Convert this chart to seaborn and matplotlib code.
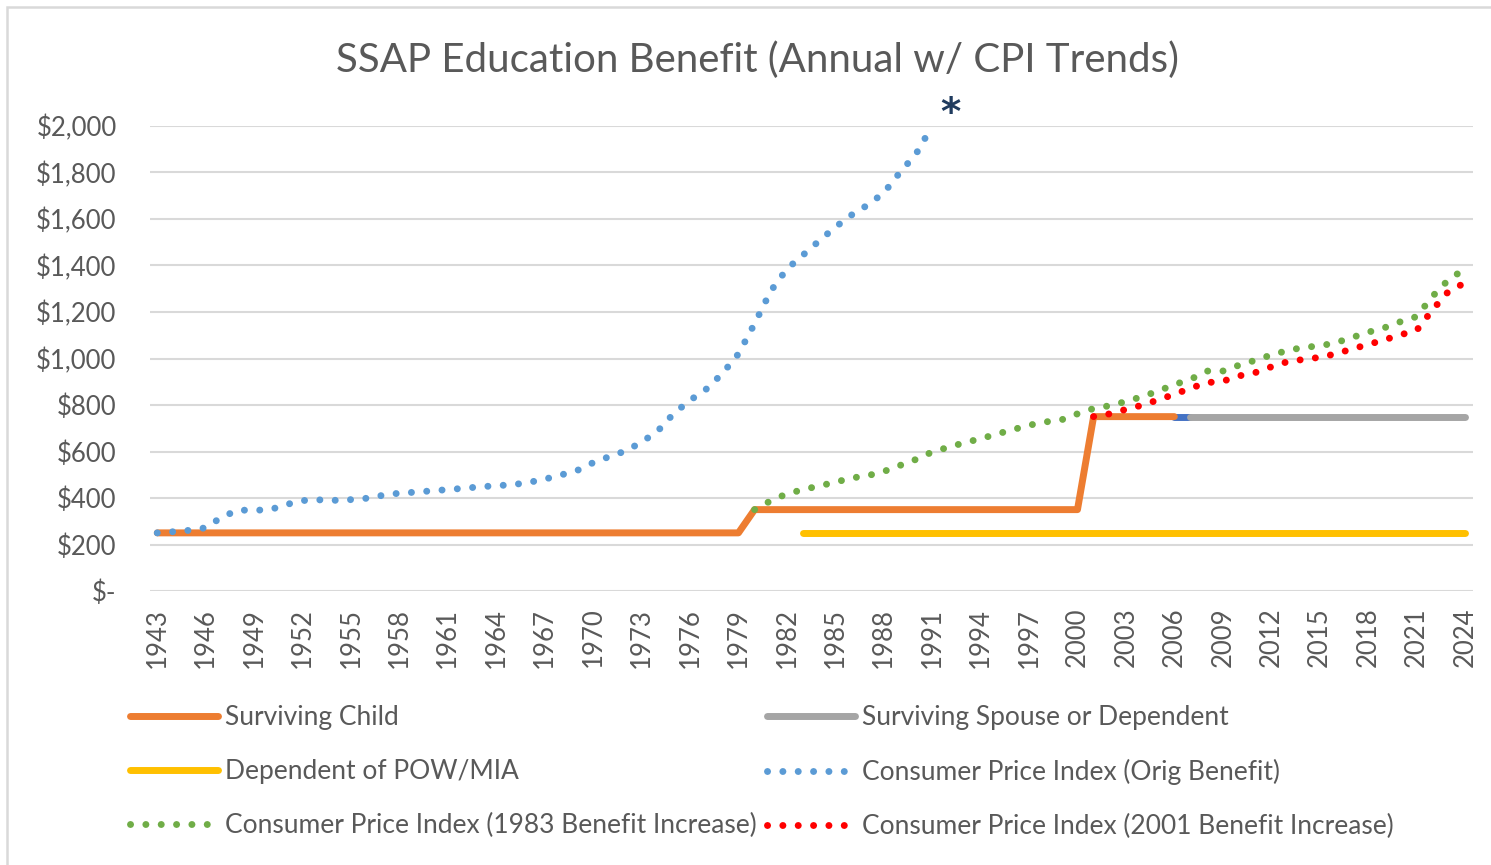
import numpy as np
import pandas as pd
import seaborn as sns
import matplotlib.pyplot as plt
from matplotlib.patches import Rectangle

# benefit levels by year
child_years = list(range(1943, 2007))
child_vals = [250] * 37 + [350] * 21 + [750] * 6

spouse_years = list(range(2006, 2025))
spouse_vals = [750] * 19

pow_years = list(range(1983, 2025))
pow_vals = [250] * 42

# CPI trend of the original 1943 benefit
cpi_orig_years = list(range(1943, 1992))
cpi_orig_vals = [250, 255, 261, 272, 318, 348, 347, 350, 372, 389,
                 392, 390, 393, 399, 412, 421, 425, 431, 436, 442,
                 448, 453, 457, 467, 481, 499, 518, 552, 578, 602,
                 640, 688, 764, 820, 868, 935, 1020, 1150, 1290, 1385,
                 1445, 1506, 1565, 1617, 1660, 1712, 1800, 1880, 2000]

# CPI trend of the 1983 increase
cpi_1983_years = list(range(1980, 2025))
cpi_1983_vals = [350, 388, 418, 436, 452, 468, 486, 496, 514, 540,
                 566, 598, 618, 638, 655, 675, 694, 713, 727, 736,
                 762, 785, 797, 815, 836, 860, 888, 910, 946, 946,
                 971, 992, 1015, 1034, 1048, 1054, 1068, 1090, 1113, 1132,
                 1158, 1180, 1268, 1340, 1385]

# CPI trend of the 2001 increase
cpi_2001_years = list(range(2001, 2025))
cpi_2001_vals = [750, 762, 781, 799, 822, 846, 872, 896, 902, 925,
                 939, 964, 986, 996, 1005, 1020, 1041, 1060, 1080, 1102,
                 1120, 1210, 1290, 1325]

y_ticks = list(range(0, 2001, 200))
x_ticks = list(range(1943, 2025, 3))

sns.set_theme(style="white")
plt.rcParams['font.family'] = ['Lato', 'DejaVu Sans']
txt = '#595959'

fig = plt.figure(figsize=(14.91, 8.65), dpi=100)
ax = fig.add_axes([150 / 1491, 1 - 591 / 865, 1323 / 1491, 465 / 865])

dots = (0, (0.01, 2.2))

# little blue piece where child turns into spouse
sns.lineplot(x=spouse_years[:2], y=spouse_vals[:2], ax=ax, color='#4472C4',
             lw=5, errorbar=None, solid_capstyle='round')
sns.lineplot(x=child_years, y=child_vals, ax=ax, color='#ED7D31', lw=5,
             errorbar=None, solid_capstyle='round', label='Surviving Child')
sns.lineplot(x=spouse_years[1:], y=spouse_vals[1:], ax=ax, color='#A5A5A5', lw=5,
             errorbar=None, solid_capstyle='round', label='Surviving Spouse or Dependent')
sns.lineplot(x=pow_years, y=pow_vals, ax=ax, color='#FFC000', lw=5,
             errorbar=None, solid_capstyle='round', label='Dependent of POW/MIA')
sns.lineplot(x=cpi_orig_years, y=cpi_orig_vals, ax=ax, color='#5B9BD5', lw=5,
             errorbar=None, linestyle=dots, dash_capstyle='round',
             label='Consumer Price Index (Orig Benefit)')
sns.lineplot(x=cpi_1983_years, y=cpi_1983_vals, ax=ax, color='#70AD47', lw=5,
             errorbar=None, linestyle=dots, dash_capstyle='round',
             label='Consumer Price Index (1983 Benefit Increase)')
sns.lineplot(x=cpi_2001_years, y=cpi_2001_vals, ax=ax, color='#FF0000', lw=5,
             errorbar=None, linestyle=dots, dash_capstyle='round',
             label='Consumer Price Index (2001 Benefit Increase)')

ax.annotate('*', xy=(cpi_orig_years[-1], cpi_orig_vals[-1]), xytext=(13, 9),
            textcoords='offset points', ha='center', va='center',
            fontsize=28, fontweight='bold', color='#1F3B5E', family='DejaVu Sans')

ax.set_xlim(1943 - 0.45, 2024 + 0.5)
ax.set_ylim(0, 2000)
ax.set_yticks(y_ticks)
ax.set_yticklabels(['$-'] + ['${:,}'.format(v) for v in y_ticks[1:]])
ax.set_xticks(x_ticks)
ax.set_xticklabels([str(v) for v in x_ticks], rotation=90)
ax.tick_params(axis='y', labelsize=18.5, labelcolor=txt, pad=24, length=0)
ax.tick_params(axis='x', labelsize=18.5, labelcolor=txt, pad=12, length=0)
ax.grid(axis='y', color='#D9D9D9', lw=1.5)
ax.set_axisbelow(True)
for s in ax.spines.values():
    s.set_visible(False)
ax.set_xlabel('')
ax.set_ylabel('')

handles, labels = ax.get_legend_handles_labels()
ax.get_legend().remove()
order = [0, 2, 4, 1, 3, 5]
fig.legend([handles[i] for i in order], [labels[i] for i in order],
           loc='upper left', bbox_to_anchor=(130 / 1491, 1 - 705 / 865), ncol=2,
           frameon=False, fontsize=19, labelcolor=txt, handlelength=3.33,
           handletextpad=0.27, columnspacing=0.38, labelspacing=1.1,
           borderpad=0, borderaxespad=0)

fig.text(757 / 1491, 1 - 60 / 865, 'SSAP Education Benefit (Annual w/ CPI Trends)',
         ha='center', va='center', fontsize=29, color=txt)

fig.patches.append(Rectangle((7 / 1491, -0.5), 2, 0.5 + 1 - 7 / 865,
                             transform=fig.transFigure, fill=False,
                             edgecolor='#D9D9D9', lw=1.8))

fig.savefig('out.png', dpi=100)
